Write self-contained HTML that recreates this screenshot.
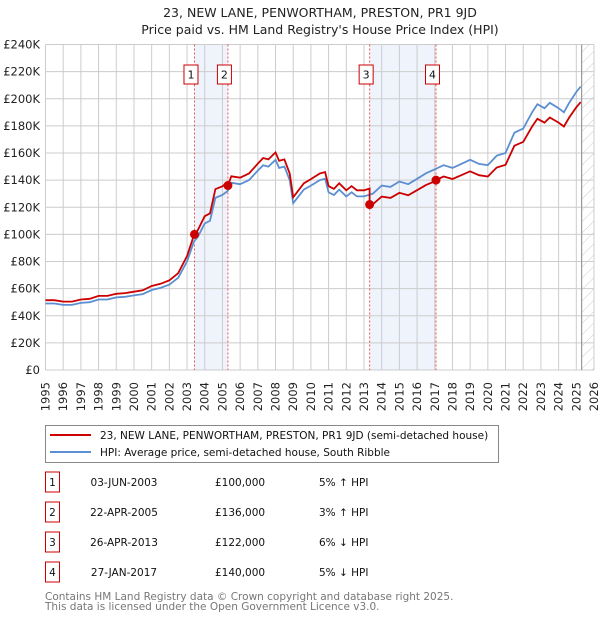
<!DOCTYPE html>
<html><head><meta charset="utf-8">
<style>
body{margin:0;background:#fff;font-family:"DejaVu Sans","Liberation Sans",sans-serif;}
svg text{font-family:"DejaVu Sans","Liberation Sans",sans-serif;}
</style></head>
<body>
<svg width="600" height="620" xmlns="http://www.w3.org/2000/svg" id="chart">
<defs>
<pattern id="hatch" width="8" height="8" patternUnits="userSpaceOnUse" patternTransform="rotate(45)">
<line x1="0" y1="0" x2="0" y2="8" stroke="#ccc" stroke-width="1"/>
</pattern>
</defs>
<text x="320" y="17" text-anchor="middle" font-size="12.5" fill="#222">23, NEW LANE, PENWORTHAM, PRESTON, PR1 9JD</text>
<text x="320" y="34" text-anchor="middle" font-size="12.5" fill="#222">Price paid vs. HM Land Registry's House Price Index (HPI)</text>
<g id="bg"></g><g id="grid"></g><g id="marks"></g><g id="axes"></g>
<g>
<rect x="45.5" y="425.5" width="453" height="37" fill="#fff" stroke="#888"/>
<line x1="50" y1="435" x2="91" y2="435" stroke="#cc0000" stroke-width="2"/>
<text x="100" y="439" font-size="10.5" fill="#111">23, NEW LANE, PENWORTHAM, PRESTON, PR1 9JD (semi-detached house)</text>
<line x1="50" y1="452" x2="91" y2="452" stroke="#5b8fd1" stroke-width="2"/>
<text x="100" y="456" font-size="10.5" fill="#111">HPI: Average price, semi-detached house, South Ribble</text>
</g>
<g id="table" font-size="10.5" fill="#111"></g>
<text x="45" y="600" font-size="10.5" fill="#777">Contains HM Land Registry data © Crown copyright and database right 2025.</text>
<text x="45" y="610" font-size="10.5" fill="#777">This data is licensed under the Open Government Licence v3.0.</text>
</svg>
<script>
const hpiYears=[1995,1995.5,1996,1996.5,1997,1997.5,1998,1998.5,1999,1999.5,2000,2000.5,2001,2001.5,2002,2002.5,2003,2003.4,2003.6,2004,2004.3,2004.6,2005,2005.3,2005.5,2006,2006.5,2007,2007.3,2007.6,2008,2008.2,2008.5,2008.8,2009.0,2009.3,2009.6,2010,2010.5,2010.8,2011.0,2011.3,2011.6,2012,2012.3,2012.6,2013,2013.5,2014,2014.5,2015,2015.5,2016,2016.5,2017,2017.5,2018,2018.5,2019,2019.5,2020,2020.5,2021,2021.5,2022,2022.5,2022.8,2023.2,2023.5,2024,2024.3,2024.6,2025,2025.25];
const hpiValues=[49,49,48,48,49.5,50,52,52,53.5,54,55,56,59,60.5,63,68,80,95,98,108,110,127,129,132,138,137,140,147,151,150,155,149,150,140,123,128,133,136,140,141,131,129,133,128,131,128,128,130,136,135,139,137,141,145,148,151,149,152,155,152,151,158,160,175,178,190,196,193,197,193,190,197,205,209];
const saleDates=[2003.42,2005.31,2013.32,2017.07];
const salePrices=[100000,136000,122000,140000];
const saleLabels=["03-JUN-2003","22-APR-2005","26-APR-2013","27-JAN-2017"];
const salePriceText=["£100,000","£136,000","£122,000","£140,000"];
const saleHpiText=["5% ↑ HPI","3% ↑ HPI","6% ↓ HPI","5% ↓ HPI"];
const segmentRatios=[1.05,1.05,1.035,0.94,0.945];
const yTicks=[0,20,40,60,80,100,120,140,160,180,200,220,240];
const xStart=1995,xEnd=2026,dataEnd=2025.3;

const NS="http://www.w3.org/2000/svg";
const X0=45.5,X1=594,Y0=370,Y1=44.5;
const xs=y=>X0+(y-xStart)/(xEnd-xStart)*(X1-X0);
const ys=v=>Y0-v/240*(Y0-Y1);
function mk(tag,attrs,parent){const e=document.createElementNS(NS,tag);for(const k in attrs)e.setAttribute(k,attrs[k]);parent.appendChild(e);return e;}
const bg=document.getElementById('bg'),grid=document.getElementById('grid'),marks=document.getElementById('marks'),axes=document.getElementById('axes'),table=document.getElementById('table');

for(let i=0;i<4;i+=2){
  const r=mk('rect',{x:xs(saleDates[i]),y:Y1,width:xs(saleDates[i+1])-xs(saleDates[i]),height:Y0-Y1,fill:'#eef3fc'},bg);
  
  
}
const h=mk('rect',{x:xs(dataEnd),y:Y1,width:X1-xs(dataEnd),height:Y0-Y1,fill:'url(#hatch)'},bg);



yTicks.forEach(t=>{
  const l=mk('line',{x1:X0,x2:X1,y1:ys(t),y2:ys(t),stroke:'#ccc','stroke-width':1},grid);
  
  
  const tx=mk('text',{x:40,y:ys(t)+4,'text-anchor':'end','font-size':11.5,fill:'#222'},axes);
  tx.textContent=t===0?'£0':'£'+t+'K';
  
  
});
for(let yr=xStart;yr<=xEnd;yr++){
  const l=mk('line',{x1:xs(yr),x2:xs(yr),y1:Y1,y2:Y0,stroke:'#ccc','stroke-width':1},grid);
  
  
  const tx=mk('text',{x:0,y:0,'text-anchor':'end','font-size':11.5,fill:'#222',transform:`translate(${xs(yr)+4},${382}) rotate(-90)`},axes);
  tx.textContent=yr;
  
  
}
const dl=mk('line',{x1:xs(dataEnd),x2:xs(dataEnd),y1:Y1,y2:Y0,stroke:'#999','stroke-width':1.2},grid);



saleDates.forEach((d,i)=>{
  const l=mk('line',{x1:xs(d),x2:xs(d),y1:Y1,y2:Y0,stroke:'#e55','stroke-width':1,'stroke-dasharray':'2,2'},marks);
  
  
});

const hp=hpiYears.map((y,i)=>xs(y).toFixed(1)+','+ys(hpiValues[i]).toFixed(1)).join(' ');
const hl=mk('polyline',{points:hp,fill:'none',stroke:'#5b8fd1','stroke-width':1.8},marks);



function seg(y){let s=0;saleDates.forEach(d=>{if(y>=d)s++;});return s;}
function interp(d){for(let i=1;i<hpiYears.length;i++){if(hpiYears[i]>=d){const t=(d-hpiYears[i-1])/(hpiYears[i]-hpiYears[i-1]);return hpiValues[i-1]+t*(hpiValues[i]-hpiValues[i-1]);}}return hpiValues[hpiValues.length-1];}
const pts=[];
hpiYears.forEach((y,i)=>{
  const s=seg(y);
  if(i>0 && seg(hpiYears[i-1])!==s){
    const d=saleDates[s-1];
    pts.push(xs(d).toFixed(1)+','+ys(interp(d)*segmentRatios[s-1]).toFixed(1));
    pts.push(xs(d).toFixed(1)+','+ys(salePrices[s-1]/1000).toFixed(1));
  }
  pts.push(xs(y).toFixed(1)+','+ys(hpiValues[i]*segmentRatios[s]).toFixed(1));
});
const pl=mk('polyline',{points:pts.join(' '),fill:'none',stroke:'#cc0000','stroke-width':1.8},marks);



saleDates.forEach((d,i)=>{
  const c=mk('circle',{cx:xs(d),cy:ys(salePrices[i]/1000),r:4.5,fill:'#cc0000'},marks);
  
  
  const g=mk('g',{},marks);
  
  
  mk('rect',{x:xs(d)-10.5,y:65,width:14,height:19,fill:'#fff',stroke:'#cc0000'},g);
  const t=mk('text',{x:xs(d)-3.5,y:78.5,'text-anchor':'middle','font-size':11,fill:'#111'},g);
  t.textContent=i+1;
});

saleLabels.forEach((lab,i)=>{
  const y=483+i*30;
  const g=mk('g',{},table);
  
  
  mk('rect',{x:45.5,y:y-11,width:14,height:20,fill:'#fff',stroke:'#cc0000'},g);
  const n=mk('text',{x:52.5,y:y+3,'text-anchor':'middle'},g);n.textContent=i+1;
  const a=mk('text',{x:124,y:y+3,'text-anchor':'middle'},g);a.textContent=lab;
  const b=mk('text',{x:215,y:y+3},g);b.textContent=salePriceText[i];
  const c=mk('text',{x:319,y:y+3},g);c.textContent=saleHpiText[i];
});
</script>
</body></html>
